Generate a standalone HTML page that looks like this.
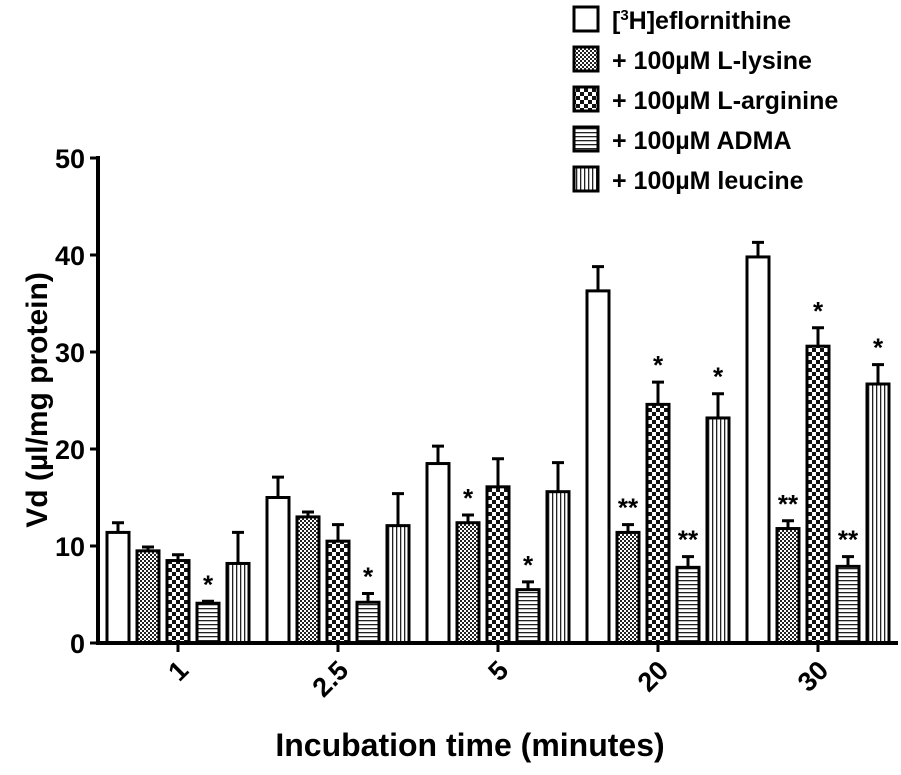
<!DOCTYPE html>
<html><head><meta charset="utf-8"><style>
body{margin:0;background:#fff;}
svg text{font-family:"Liberation Sans",Arial,sans-serif;font-weight:bold;fill:#000;}
</style></head><body>
<svg id="chart" width="901" height="770" viewBox="0 0 901 770">
<defs>
<pattern id="p1" width="4" height="4" patternUnits="userSpaceOnUse"><rect width="4" height="4" fill="#fff"/><rect width="2" height="2" fill="#222"/><rect x="2" y="2" width="2" height="2" fill="#222"/></pattern>
<pattern id="p2" width="8" height="8" patternUnits="userSpaceOnUse"><rect width="8" height="8" fill="#fff"/><rect width="4" height="4" fill="#111"/><rect x="4" y="4" width="4" height="4" fill="#111"/></pattern>
<pattern id="p3" width="4" height="4" patternUnits="userSpaceOnUse"><rect width="4" height="4" fill="#fff"/><rect width="4" height="1.3" fill="#222"/></pattern>
<pattern id="p4" width="4" height="4" patternUnits="userSpaceOnUse"><rect width="4" height="4" fill="#fff"/><rect width="1.3" height="4" fill="#222"/></pattern>
</defs>
<g id="bars"></g>
<line x1="98" y1="156" x2="98" y2="645" stroke="#000" stroke-width="4"/>
<line x1="96" y1="643" x2="898" y2="643" stroke="#000" stroke-width="4"/>
<g id="axes"></g>
<text x="0" y="0" font-size="30" text-anchor="middle" transform="translate(47,400) rotate(-90)">Vd (µl/mg protein)</text>
<text x="470" y="756" font-size="32" text-anchor="middle">Incubation time (minutes)</text>
<g id="legend"></g>
</svg>
<script>
const categories=["1","2.5","5","20","30"];
const seriesNames=["[3H]eflornithine","+ 100µM L-lysine","+ 100µM L-arginine","+ 100µM ADMA","+ 100µM leucine"];
const eflornithine=[11.4,15.0,18.5,36.3,39.8];
const lysine=[9.5,13.0,12.4,11.4,11.8];
const arginine=[8.5,10.5,16.1,24.6,30.6];
const adma=[4.1,4.2,5.5,7.8,7.9];
const leucine=[8.2,12.1,15.6,23.2,26.7];
const errEfl=[1.0,2.1,1.8,2.5,1.5];
const errLys=[0.4,0.5,0.8,0.8,0.8];
const errArg=[0.6,1.7,2.9,2.3,1.9];
const errAdma=[0.2,0.9,0.8,1.1,1.0];
const errLeu=[3.2,3.3,3.0,2.5,2.0];
const sigLys=["","","*","**","**"];
const sigArg=["","","","*","*"];
const sigAdma=["*","*","*","**","**"];
const sigLeu=["","","","*","*"];
const sigEfl=["","","","",""];
const yTicks=[0,10,20,30,40,50];

const NS="http://www.w3.org/2000/svg";
const y=v=>643-v*9.7;
const xc=i=>178+i*160;
const series=[eflornithine,lysine,arginine,adma,leucine];
const errs=[errEfl,errLys,errArg,errAdma,errLeu];
const sigs=[sigEfl,sigLys,sigArg,sigAdma,sigLeu];
const fills=["#fff","url(#p1)","url(#p2)","url(#p3)","url(#p4)"];
function mk(tag,attrs,parent){const e=document.createElementNS(NS,tag);for(const k in attrs)e.setAttribute(k,attrs[k]);parent.appendChild(e);return e;}
const gb=document.getElementById("bars");
for(let i=0;i<categories.length;i++){
  for(let s=0;s<5;s++){
    const v=series[s][i],e=errs[s][i];
    const cx=xc(i)+(s-2)*30, x0=cx-11;
    const r=mk("rect",{x:x0,y:y(v),width:22,height:643-y(v),fill:fills[s],stroke:"#000","stroke-width":3},gb);
    
    
    const l=mk("path",{d:`M${cx},${y(v)} V${y(v+e)} M${cx-6},${y(v+e)} H${cx+6}`,stroke:"#000","stroke-width":3,fill:"none"},gb);
    
    
    if(sigs[s][i]){
      const t=mk("text",{x:cx,y:y(v+e)-8,"font-size":26,"text-anchor":"middle",fill:"#333"},gb);
      t.textContent=sigs[s][i];
      
      
    }
  }
}
const ga=document.getElementById("axes");
yTicks.forEach(v=>{
  const l=mk("line",{x1:90,x2:98,y1:y(v),y2:y(v),stroke:"#000","stroke-width":3},ga);
  
  
  const t=mk("text",{x:85,y:y(v)+10,"font-size":27,"text-anchor":"end"},ga);
  t.textContent=v;
  
  
});
categories.forEach((c,i)=>{
  const l=mk("line",{x1:xc(i),x2:xc(i),y1:643,y2:652,stroke:"#000","stroke-width":3},ga);
  
  
  const t=mk("text",{x:0,y:0,"font-size":27,"text-anchor":"end",transform:`translate(${xc(i)+12},${672}) rotate(-45)`},ga);
  t.textContent=c;
  
  
});
const gl=document.getElementById("legend");
seriesNames.forEach((n,s)=>{
  const yy=7+s*40;
  const r=mk("rect",{x:574,y:yy,width:24,height:24,fill:fills[s],stroke:"#000","stroke-width":3},gl);
  
  
  const t=mk("text",{x:612,y:yy+22,"font-size":25},gl);
  if(s===0){t.innerHTML='[<tspan font-size="15" dy="-9">3</tspan><tspan dy="9">H]eflornithine</tspan>';}
  else t.textContent=n;
  
  
});
</script>
</body></html>
